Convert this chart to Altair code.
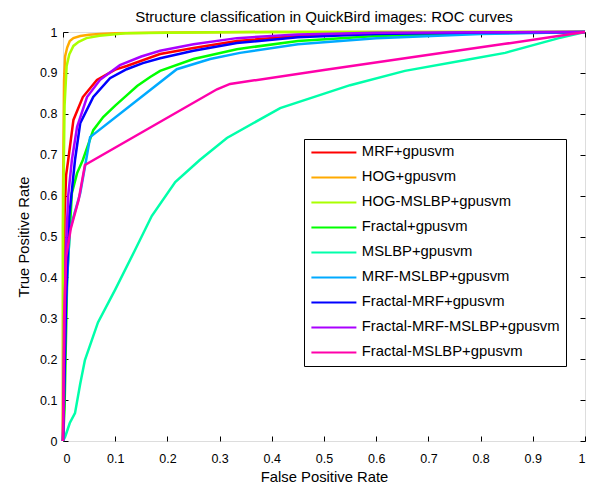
import altair as alt
import pandas as pd

series_names = [
    "MRF+gpusvm", "HOG+gpusvm", "HOG-MSLBP+gpusvm", "Fractal+gpusvm",
    "MSLBP+gpusvm", "MRF-MSLBP+gpusvm", "Fractal-MRF+gpusvm",
    "Fractal-MRF-MSLBP+gpusvm", "Fractal-MSLBP+gpusvm",
]
series_colors = ["#FF0000", "#FFAA00", "#AAFF00", "#00FF00", "#00FFAA",
                 "#00AAFF", "#0000FF", "#AA00FF", "#FF00AA"]

mrf_x = [0, 0.001, 0.003, 0.006, 0.01, 0.02, 0.038, 0.065, 0.1, 0.122, 0.186, 0.25, 0.333, 0.45, 0.6, 0.8, 1]
mrf_y = [0, 0.3, 0.55, 0.65, 0.687, 0.785, 0.841, 0.883, 0.908, 0.917, 0.946, 0.961, 0.978, 0.99, 0.996, 0.999, 1]

hog_x = [0, 0, 0.002, 0.004, 0.008, 0.013, 0.02, 0.033, 0.05, 0.07, 0.1, 0.2, 0.4, 1]
hog_y = [0, 0.6, 0.88, 0.94, 0.962, 0.978, 0.985, 0.99, 0.993, 0.995, 0.997, 0.999, 1, 1]

hogms_x = [0, 0, 0.003, 0.007, 0.012, 0.02, 0.03, 0.045, 0.07, 0.12, 0.2, 0.4, 1]
hogms_y = [0, 0.52, 0.82, 0.917, 0.945, 0.966, 0.976, 0.985, 0.991, 0.997, 0.998, 1, 1]

frac_x = [0, 0.003, 0.008, 0.017, 0.027, 0.038, 0.058, 0.077, 0.1, 0.122, 0.142, 0.167, 0.186, 0.25, 0.333, 0.45, 0.6, 0.8, 1]
frac_y = [0, 0.08, 0.4, 0.606, 0.655, 0.687, 0.76, 0.792, 0.82, 0.845, 0.868, 0.89, 0.905, 0.934, 0.958, 0.978, 0.99, 0.997, 1]

mslbp_x = [0, 0.004, 0.013, 0.023, 0.033, 0.042, 0.067, 0.1, 0.138, 0.17, 0.215, 0.262, 0.314, 0.416, 0.55, 0.655, 0.774, 0.847, 0.95, 1]
mslbp_y = [0, 0.01, 0.044, 0.068, 0.14, 0.198, 0.29, 0.37, 0.467, 0.55, 0.633, 0.687, 0.741, 0.814, 0.87, 0.905, 0.932, 0.949, 0.985, 1]

mrfms_x = [0, 0.004, 0.013, 0.033, 0.042, 0.052, 0.218, 0.282, 0.339, 0.45, 0.6, 0.8, 1]
mrfms_y = [0, 0.3, 0.516, 0.606, 0.67, 0.743, 0.909, 0.934, 0.949, 0.97, 0.985, 0.995, 1]

fmrf_x = [0, 0.002, 0.006, 0.012, 0.023, 0.033, 0.058, 0.09, 0.122, 0.153, 0.186, 0.25, 0.333, 0.45, 0.6, 0.8, 1]
fmrf_y = [0, 0.1, 0.35, 0.55, 0.687, 0.777, 0.841, 0.887, 0.909, 0.924, 0.936, 0.954, 0.973, 0.987, 0.995, 0.999, 1]

fmrfms_x = [0, 0.002, 0.005, 0.01, 0.017, 0.027, 0.046, 0.071, 0.109, 0.15, 0.186, 0.25, 0.333, 0.45, 0.6, 1]
fmrfms_y = [0, 0.2, 0.45, 0.6, 0.687, 0.768, 0.841, 0.883, 0.919, 0.94, 0.954, 0.97, 0.985, 0.994, 0.998, 1]

fms_x = [0, 0.002, 0.006, 0.015, 0.03, 0.042, 0.295, 0.32, 0.5, 0.655, 0.847, 1]
fms_y = [0, 0.3, 0.45, 0.52, 0.59, 0.675, 0.86, 0.873, 0.907, 0.936, 0.971, 1]

tick_values = [0, 0.1, 0.2, 0.3, 0.4, 0.5, 0.6, 0.7, 0.8, 0.9, 1]

all_xy = [(mrf_x, mrf_y), (hog_x, hog_y), (hogms_x, hogms_y), (frac_x, frac_y),
          (mslbp_x, mslbp_y), (mrfms_x, mrfms_y), (fmrf_x, fmrf_y),
          (fmrfms_x, fmrfms_y), (fms_x, fms_y)]

rows = []
for name, (xs, ys) in zip(series_names, all_xy):
    for i, (xv, yv) in enumerate(zip(xs, ys)):
        rows.append({"series": name, "fpr": xv, "tpr": yv, "idx": i})
df = pd.DataFrame(rows)

W, H = 522, 409
FONT = "Liberation Sans"

xscale = alt.Scale(domain=[0, 1], nice=False, zero=False)
yscale = alt.Scale(domain=[0, 1], nice=False, zero=False)
color = alt.Color(
    "series:N",
    scale=alt.Scale(domain=series_names, range=series_colors),
    legend=alt.Legend(
        title=None, orient="none", legendX=241, legendY=107,
        symbolType="M-1,0H6.5", symbolSize=144, symbolStrokeWidth=2,
        labelFont=FONT, labelFontSize=14.8, labelColor="#000", labelLimit=0,
        strokeColor="#000", fillColor="white", padding=6,
        rowPadding=9, labelOffset=37, symbolOffset=0,
    ),
)

lines = alt.Chart(df).mark_line(strokeWidth=2.5, clip=False).encode(
    x=alt.X("fpr:Q", scale=xscale, axis=alt.Axis(
        orient="bottom", values=tick_values, format="~g", tickSize=0,
        domain=False, grid=False, labelPadding=11, labelFont=FONT,
        labelFontSize=12.5, labelColor="#000", title="False Positive Rate",
        titleFont=FONT, titleFontSize=14.8, titleFontWeight="normal",
        titleColor="#000", titlePadding=5)),
    y=alt.Y("tpr:Q", scale=yscale, axis=alt.Axis(
        orient="left", values=tick_values, format="~g", tickSize=0,
        domain=False, grid=False, labelPadding=6, labelFont=FONT,
        labelFontSize=12.5, labelColor="#000", title="True Positive Rate",
        titleFont=FONT, titleFontSize=14.8, titleFontWeight="normal",
        titleColor="#000", titlePadding=8)),
    color=color,
    order="idx:Q",
    detail="series:N",
)

tick_axis_common = dict(values=tick_values, labels=False, domain=False, grid=False,
                        tickSize=5, tickColor="#000", tickWidth=1, title=None)

ticks_a = alt.Chart(df).mark_point(opacity=0).encode(
    x=alt.X("fpr:Q", scale=xscale, axis=alt.Axis(orient="top", offset=-H, **tick_axis_common)),
    y=alt.Y("tpr:Q", scale=yscale, axis=alt.Axis(orient="right", offset=-W, **tick_axis_common)),
)
ticks_b = alt.Chart(df).mark_point(opacity=0).encode(
    x=alt.X("fpr:Q", scale=xscale, axis=alt.Axis(orient="bottom", offset=-H, **tick_axis_common)),
    y=alt.Y("tpr:Q", scale=yscale, axis=alt.Axis(orient="left", offset=-W, **tick_axis_common)),
)

chart = alt.layer(lines, ticks_a, ticks_b).resolve_axis(
    x="independent", y="independent"
).properties(
    width=W, height=H,
    autosize=alt.AutoSizeParams(type="none"),
    padding={"left": 55, "top": 24, "right": 2, "bottom": 43},
    title=alt.Title("Structure classification in QuickBird images: ROC curves",
                    font=FONT, fontSize=15, fontWeight="normal", color="#000",
                    anchor="middle", frame="group", offset=1.5),
).configure_view(stroke="#000", strokeWidth=1).configure(background="white")

chart.save("out.html", embed_options={"renderer": "svg", "actions": False})
